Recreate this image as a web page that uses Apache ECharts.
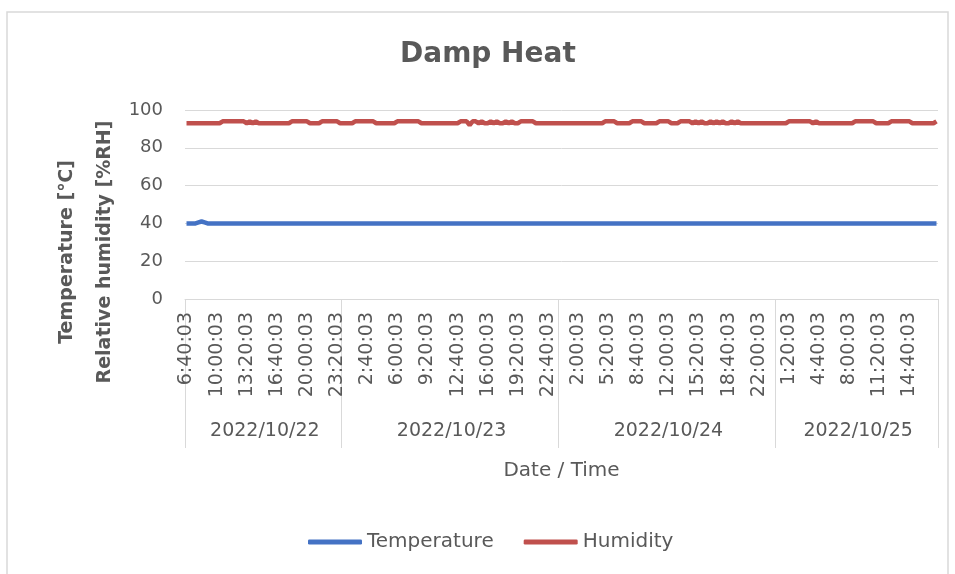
<html>

<head>
    <title>Damp Heat</title>
    <script src="https://cdn.jsdelivr.net/npm/echarts@6.0.0/dist/echarts.min.js"></script>
</head>

<body style="margin:0;background:#fff;">
    <div id="main" style="width:955px;height:574px;"></div>
    <script type="text/javascript">
        // sampling: every 20 min from 2022/10/22 6:40:03
        var days = ['2022/10/22', '2022/10/23', '2022/10/24', '2022/10/25'];
        var startMinute = 400;   // 6:40
        var stepMinutes = 20;

        var temperature = [
            40, 40, 40, 40, 40.5, 41, 40.5, 40, 40, 40,
            40, 40, 40, 40, 40, 40, 40, 40, 40, 40,
            40, 40, 40, 40, 40, 40, 40, 40, 40, 40,
            40, 40, 40, 40, 40, 40, 40, 40, 40, 40,
            40, 40, 40, 40, 40, 40, 40, 40, 40, 40,
            40, 40, 40, 40, 40, 40, 40, 40, 40, 40,
            40, 40, 40, 40, 40, 40, 40, 40, 40, 40,
            40, 40, 40, 40, 40, 40, 40, 40, 40, 40,
            40, 40, 40, 40, 40, 40, 40, 40, 40, 40,
            40, 40, 40, 40, 40, 40, 40, 40, 40, 40,
            40, 40, 40, 40, 40, 40, 40, 40, 40, 40,
            40, 40, 40, 40, 40, 40, 40, 40, 40, 40,
            40, 40, 40, 40, 40, 40, 40, 40, 40, 40,
            40, 40, 40, 40, 40, 40, 40, 40, 40, 40,
            40, 40, 40, 40, 40, 40, 40, 40, 40, 40,
            40, 40, 40, 40, 40, 40, 40, 40, 40, 40,
            40, 40, 40, 40, 40, 40, 40, 40, 40, 40,
            40, 40, 40, 40, 40, 40, 40, 40, 40, 40,
            40, 40, 40, 40, 40, 40, 40, 40, 40, 40,
            40, 40, 40, 40, 40, 40, 40, 40, 40, 40,
            40, 40, 40, 40, 40, 40, 40, 40, 40, 40,
            40, 40, 40, 40, 40, 40, 40, 40, 40, 40,
            40, 40, 40, 40, 40, 40, 40, 40, 40, 40,
            40, 40, 40, 40, 40, 40, 40, 40, 40, 40,
            40, 40, 40, 40, 40, 40, 40, 40, 40, 40
        ];

        var humidity = [
            93, 93, 93, 93, 93, 93, 93, 93, 93, 93,
            93, 93, 94, 94, 94, 94, 94, 94, 94, 94,
            93, 94, 93, 94, 93, 93, 93, 93, 93, 93,
            93, 93, 93, 93, 93, 94, 94, 94, 94, 94,
            94, 93, 93, 93, 93, 94, 94, 94, 94, 94,
            94, 93, 93, 93, 93, 93, 94, 94, 94, 94,
            94, 94, 94, 93, 93, 93, 93, 93, 93, 93,
            94, 94, 94, 94, 94, 94, 94, 94, 93, 93,
            93, 93, 93, 93, 93, 93, 93, 93, 93, 93,
            93, 94, 94, 94, 92, 94, 94, 93, 94, 93,
            93, 94, 93, 94, 93, 93, 94, 93, 94, 93,
            93, 94, 94, 94, 94, 94, 93, 93, 93, 93,
            93, 93, 93, 93, 93, 93, 93, 93, 93, 93,
            93, 93, 93, 93, 93, 93, 93, 93, 93, 94,
            94, 94, 94, 93, 93, 93, 93, 93, 94, 94,
            94, 94, 93, 93, 93, 93, 93, 94, 94, 94,
            94, 93, 93, 93, 94, 94, 94, 94, 93, 94,
            93, 94, 93, 93, 94, 93, 94, 93, 94, 93,
            93, 94, 93, 94, 93, 93, 93, 93, 93, 93,
            93, 93, 93, 93, 93, 93, 93, 93, 93, 93,
            94, 94, 94, 94, 94, 94, 94, 94, 93, 94,
            93, 93, 93, 93, 93, 93, 93, 93, 93, 93,
            93, 93, 94, 94, 94, 94, 94, 94, 94, 93,
            93, 93, 93, 93, 94, 94, 94, 94, 94, 94,
            94, 93, 93, 93, 93, 93, 93, 93, 93, 94
        ];

        // time / date category per sample
        var times = [];
        var dateOf = [];
        var dayStart = [];
        for (var i = 0; i < humidity.length; i++) {
            var total = startMinute + i * stepMinutes;
            var d = Math.floor(total / 1440);
            var m = total % 1440;
            var mm = m % 60;
            times.push(Math.floor(m / 60) + ':' + (mm < 10 ? '0' + mm : mm) + ':03');
            dateOf.push(days[d]);
            if (i === 0 || dateOf[i - 1] !== days[d]) dayStart.push(i);
        }
        var dayMid = [];
        for (var k = 0; k < dayStart.length; k++) {
            var end = k + 1 < dayStart.length ? dayStart[k + 1] : humidity.length;
            dayMid.push(Math.floor((dayStart[k] + end) / 2));
        }

        var font = 'DejaVu Sans';
        var textColor = '#595959';
        var gridColor = '#d9d9d9';

        var myChart = echarts.init(document.getElementById('main'));
        var option = {
            animation: false,
            backgroundColor: '#fff',
            title: {
                text: 'Damp Heat',
                left: 395,
                top: 36,
                textStyle: { fontFamily: font, fontSize: 28, fontWeight: 'bold', color: textColor }
            },
            legend: {
                left: 303,
                top: 527,
                itemWidth: 54,
                itemHeight: 5,
                itemGap: 30,
                icon: 'roundRect',
                textStyle: { fontFamily: font, fontSize: 20, color: textColor },
                data: ['Temperature', 'Humidity']
            },
            grid: { left: 185, right: 17, top: 110, bottom: 275 },
            graphic: [
                {
                    type: 'rect',
                    shape: { x: 7, y: 12, width: 941, height: 600 },
                    style: { fill: 'none', stroke: gridColor, lineWidth: 1.5 }
                },
                {
                    type: 'text',
                    x: 86,
                    y: 252,
                    rotation: Math.PI / 2,
                    style: {
                        text: 'Temperature [℃]\nRelative humidity [%RH]',
                        font: 'bold 19px "DejaVu Sans"',
                        fill: textColor,
                        align: 'center',
                        verticalAlign: 'middle',
                        lineHeight: 38
                    }
                }
            ],
            xAxis: [
                {
                    type: 'category',
                    position: 'bottom',
                    data: times,
                    axisLine: { lineStyle: { color: gridColor } },
                    axisTick: { show: false },
                    splitLine: { show: false },
                    axisLabel: {
                        rotate: 90,
                        interval: 9,
                        margin: 13,
                        fontFamily: font,
                        fontSize: 19,
                        color: textColor
                    }
                },
                {
                    type: 'category',
                    position: 'bottom',
                    offset: 0,
                    data: dateOf,
                    axisLine: { show: false },
                    axisTick: {
                        show: true,
                        length: 149,
                        interval: function (idx) { return dayStart.indexOf(idx) >= 0; },
                        lineStyle: { color: gridColor }
                    },
                    splitLine: { show: false },
                    axisLabel: {
                        interval: function (idx) { return dayMid.indexOf(idx) >= 0; },
                        margin: 123,
                        fontFamily: font,
                        fontSize: 19,
                        color: textColor
                    },
                    name: 'Date / Time',
                    nameLocation: 'middle',
                    nameGap: 162,
                    nameTextStyle: { fontFamily: font, fontSize: 20, color: textColor }
                }
            ],
            yAxis: {
                type: 'value',
                min: 0,
                max: 100,
                interval: 20,
                axisLine: { show: false },
                axisTick: { show: false },
                splitLine: { lineStyle: { color: gridColor } },
                axisLabel: { margin: 22, fontFamily: font, fontSize: 18, color: textColor }
            },
            series: [
                {
                    name: 'Temperature',
                    type: 'line',
                    xAxisIndex: 0,
                    data: temperature,
                    showSymbol: false,
                    color: '#4472c4',
                    lineStyle: { width: 4.5 }
                },
                {
                    name: 'Humidity',
                    type: 'line',
                    xAxisIndex: 0,
                    data: humidity,
                    showSymbol: false,
                    color: '#c0504d',
                    lineStyle: { width: 4.5 }
                }
            ]
        };
        option && myChart.setOption(option);
    </script>
</body>

</html>
